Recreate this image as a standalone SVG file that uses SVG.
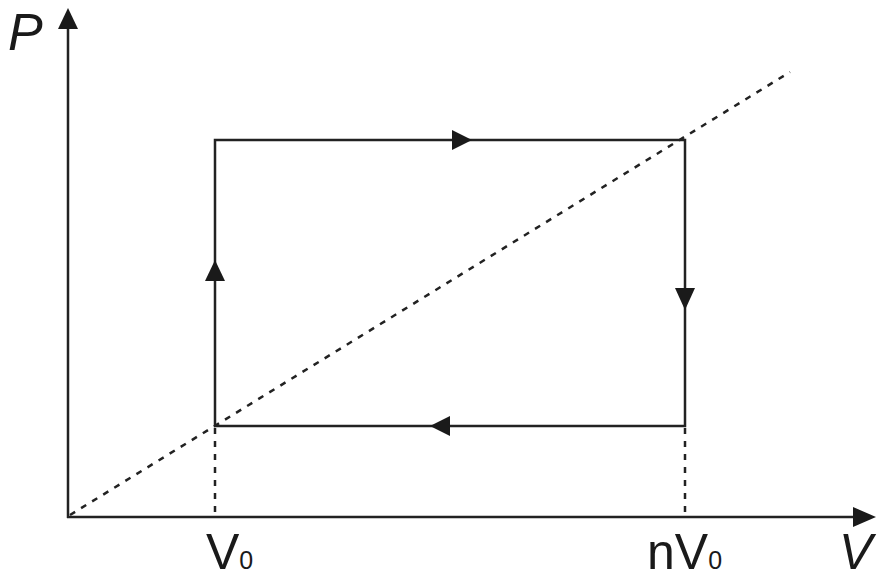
<svg xmlns="http://www.w3.org/2000/svg" width="878" height="581" viewBox="0 0 878 581">
<style>
.ax{stroke:#222;stroke-width:2.5;fill:none}
.cyc{stroke:#222;stroke-width:2.5;fill:none}
.dash{stroke:#222;stroke-width:2.5;fill:none;stroke-dasharray:6 7}
.head{fill:#1a1a1a}
.lbl{font-family:"Liberation Sans",Arial,sans-serif;fill:#1a1a1a}
</style>
<rect width="878" height="581" fill="#fff"/>
<g id="connectors">
<line class="ax" x1="68" y1="518" x2="68" y2="24"/>
<polygon class="head" points="68,8 58,29 78,29"/>
<line class="ax" x1="67" y1="517" x2="858" y2="517"/>
<polygon class="head" points="876,517 853,507 853,527"/>
<line class="dash" x1="70" y1="515" x2="790" y2="72"/>
<line class="dash" x1="215" y1="428" x2="215" y2="516"/>
<line class="dash" x1="685" y1="428" x2="685" y2="516"/>
<polygon class="cyc" points="215,426 215,140 685,140 685,426"/>
<polygon class="head" points="472,140 452,130 452,150"/>
<polygon class="head" points="685,310 675,288 695,288"/>
<polygon class="head" points="430,426 450,416 450,436"/>
<polygon class="head" points="215,260 205,281 225,281"/>
</g>
<g id="label-P"><text class="lbl" x="8" y="50" font-size="52" font-style="italic">P</text></g>
<g id="label-V0"><text class="lbl" x="206" y="569" font-size="50">V<tspan font-size="25">0</tspan></text></g>
<g id="label-nV0"><text class="lbl" x="647" y="569" font-size="50">nV<tspan font-size="25">0</tspan></text></g>
<g id="label-V"><text class="lbl" x="839" y="569" font-size="50" font-style="italic">V</text></g>
</svg>
